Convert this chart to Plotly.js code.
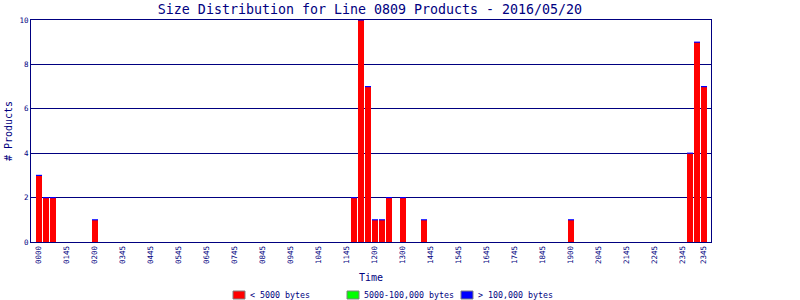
<!DOCTYPE html>
<html>
<head>
<meta charset="utf-8">
<script src="https://cdn.plot.ly/plotly-3.0.1.min.js"></script>
<style>html,body{margin:0;padding:0;background:#fff}#chart{width:800px;height:300px}</style>
</head>
<body>
<div id="chart"></div>
<script>
// 96 quarter-hour slots (index 0 = 00:00 ... 95 = 23:45)
const slots = Array.from({length: 96}, (_, i) => i);
// Products < 5000 bytes per slot (only non-empty slots listed)
const smallSlots  = [0, 1, 2, 8, 45, 46, 47, 48, 49, 50, 52, 55, 76, 93, 94, 95];
const smallValues = [3, 2, 2, 1, 2, 10, 7, 1, 1, 2, 2, 1, 1, 4, 9, 7];
// 5000-100,000 bytes and > 100,000 bytes: none this day
const mediumValues = slots.map(() => 0);
const largeValues  = slots.map(() => 0);
// x tick labels as printed on the reference
const tickSlots  = [0, 4, 8, 12, 16, 20, 24, 28, 32, 36, 40, 44, 48, 52, 56, 60, 64, 68, 72, 76, 80, 84, 88, 92, 95];
const tickLabels = ["0000","0145","0200","0345","0445","0545","0645","0745","0845","0945","1045","1145",
                    "1200","1300","1445","1545","1645","1745","1845","1900","2045","2145","2245","2345","2345"];
const seriesNames  = ["< 5000 bytes", "5000-100,000 bytes", "> 100,000 bytes"];
const seriesColors = ["#ff0000", "#00ff00", "#0000ff"];

const smallFull = slots.map(i => { const k = smallSlots.indexOf(i); return k >= 0 ? smallValues[k] : null; });

const navy = "#000080";
const mono = "DejaVu Sans Mono, monospace";

const traces = [
  {type: "bar", x: slots, y: smallFull, name: seriesNames[0], marker: {color: seriesColors[0]}},
  {type: "bar", x: slots, y: mediumValues, name: seriesNames[1], marker: {color: seriesColors[1]}},
  {type: "bar", x: slots, y: largeValues, name: seriesNames[2], marker: {color: seriesColors[2]}},
  {type: "scatter", mode: "markers", x: smallSlots, y: smallValues, showlegend: false, hoverinfo: "skip",
   marker: {symbol: "line-ew", size: 4.3, line: {color: "#0000ff", width: 1.2}}}
];

// legend drawn in container pixels: boxes and labels
const W = 800, H = 300;
const legendBoxX = [233, 347, 461];
const shapes = [], annotations = [];
seriesNames.forEach((name, k) => {
  const x0 = legendBoxX[k];
  shapes.push({type: "rect", xref: "paper", yref: "paper",
    x0: (x0 - 31) / 680, x1: (x0 + 12 - 31) / 680,
    y0: -(291 - 242) / 222, y1: -(299 - 242) / 222,
    fillcolor: seriesColors[k], line: {color: "#808080", width: 1}});
  annotations.push({xref: "paper", yref: "paper", x: (x0 + 15 - 31) / 680, y: -(295 - 242) / 222,
    xanchor: "left", yanchor: "middle", showarrow: false, text: name,
    font: {family: mono, size: 8.3, color: navy}});
});

const layout = {
  width: W, height: H,
  margin: {l: 31, r: 89, t: 20, b: 58},
  paper_bgcolor: "#fff", plot_bgcolor: "#fff",
  barmode: "stack", bargap: 1/7,
  font: {family: mono, color: navy, size: 8},
  title: {text: "Size Distribution for Line 0809 Products - 2016/05/20",
          font: {family: mono, size: 13.3, color: navy}, x: 370/800, xanchor: "center", y: 1 - 9/300, yanchor: "middle"},
  xaxis: {range: [-8/7, 96], tickmode: "array", tickvals: tickSlots, ticktext: tickLabels, tickangle: -90,
          ticks: "", showgrid: false, zeroline: false, showline: true, linecolor: navy, linewidth: 1, mirror: true,
          tickfont: {family: mono, size: 7.5, color: navy}, fixedrange: true, automargin: false,
          title: {text: "Time", font: {family: mono, size: 10, color: navy}, standoff: 10}},
  yaxis: {range: [0, 10], dtick: 2, ticks: "", showgrid: true, gridcolor: navy, gridwidth: 1, zeroline: false,
          showline: true, linecolor: navy, linewidth: 1, mirror: true, automargin: false,
          tickfont: {family: mono, size: 7.5, color: navy}, fixedrange: true,
          title: {text: "# Products", font: {family: mono, size: 10, color: navy}, standoff: 4}},
  showlegend: false,
  shapes: shapes,
  annotations: annotations
};

Plotly.newPlot("chart", traces, layout, {staticPlot: true, displayModeBar: false});
</script>
</body>
</html>
